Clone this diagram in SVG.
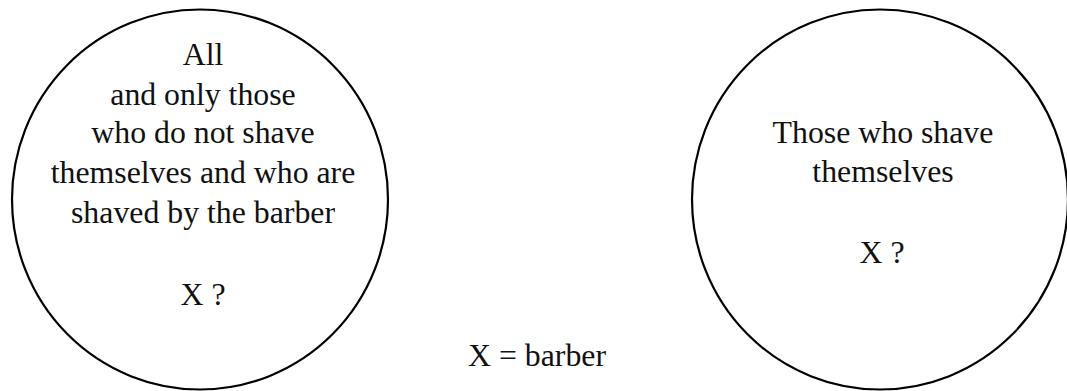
<svg xmlns="http://www.w3.org/2000/svg" width="1067" height="391" viewBox="0 0 1067 391">
<style>
.c{fill:none;stroke:#000;stroke-width:2.2}
text{font-family:"Liberation Serif","Times New Roman",serif;font-size:31.8px;fill:#111;text-anchor:middle}
</style>
<rect width="1067" height="391" fill="#fff"/>
<g id="left">
<ellipse class="c" cx="200" cy="199.5" rx="188" ry="190"/>
<text x="203" y="65">All</text>
<text x="203" y="105">and only those</text>
<text x="203" y="143">who do not shave</text>
<text x="203" y="183">themselves and who are</text>
<text x="203" y="223">shaved by the barber</text>
<text x="203" y="305">X ?</text>
</g>
<g id="right">
<ellipse class="c" cx="880" cy="199.5" rx="188" ry="190"/>
<text x="883" y="143">Those who shave</text>
<text x="883" y="182">themselves</text>
<text x="882" y="263">X ?</text>
</g>
<g id="legend">
<text x="537" y="366">X = barber</text>
</g>
<g id="connectors"/>
</svg>
